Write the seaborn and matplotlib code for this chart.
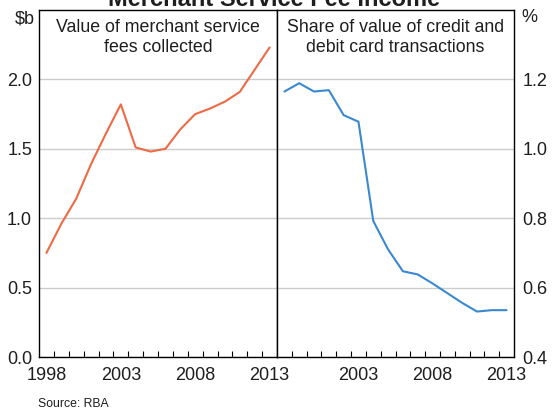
import matplotlib
matplotlib.use("Agg")
import matplotlib.pyplot as plt
import seaborn as sns
import pandas as pd

# ---- data ----
years = list(range(1998, 2014))
fees_bn = [0.75, 0.96, 1.14, 1.39, 1.61, 1.82, 1.51, 1.48, 1.50, 1.64,
           1.75, 1.79, 1.84, 1.91, 2.07, 2.23]
share_pct = [1.165, 1.189, 1.165, 1.169, 1.097, 1.078, 0.792, 0.710, 0.647,
             0.638, 0.612, 0.584, 0.556, 0.531, 0.535, 0.535]
left_year_labels = [1998, 2003, 2008, 2013]
right_year_labels = [2003, 2008, 2013]
left_yticks = [0.0, 0.5, 1.0, 1.5, 2.0]
right_yticks = [0.4, 0.6, 0.8, 1.0, 1.2]

title = "Merchant Service Fee Income"
left_title = "Value of merchant service\nfees collected"
right_title = "Share of value of credit and\ndebit card transactions"
source = "Source: RBA"

sns.set_theme(style="white")
plt.rcParams["font.family"] = ["Liberation Sans", "DejaVu Sans"]
TXT = "#1e1e1e"
ORANGE = "#EE6A45"
BLUE = "#3A88D0"
GRID = "#cccccc"
FS = 13

W, H = 556, 409
fig = plt.figure(figsize=(W / 100, H / 100), dpi=100)

def px_axes(x0, x1, ytop, ybot):
    return fig.add_axes([x0 / W, (H - ybot) / H, (x1 - x0) / W, (ybot - ytop) / H])

axL = px_axes(39, 277, 10, 357)
axR = px_axes(277, 514, 10, 357)

dfL = pd.DataFrame({"x": [y + 0.5 for y in years], "v": fees_bn})
dfR = pd.DataFrame({"x": [y + 0.5 for y in years], "v": share_pct})
sns.lineplot(data=dfL, x="x", y="v", ax=axL, color=ORANGE, lw=1.5)
sns.lineplot(data=dfR, x="x", y="v", ax=axR, color=BLUE, lw=1.5)

for ax in (axL, axR):
    ax.set_xlim(1998, 2014)
    ax.set_xlabel("")
    ax.set_ylabel("")
    for s in ax.spines.values():
        s.set_visible(True)
        s.set_color("black")
        s.set_linewidth(1.0)
    ax.set_xticks(list(range(1999, 2014)))
    ax.tick_params(axis="x", which="major", direction="in", length=4,
                   width=0.8, color="black", labelbottom=False, bottom=True)
    ax.grid(axis="y", color=GRID, lw=1.0)
    ax.grid(axis="x", visible=False)
    ax.set_axisbelow(True)

axL.set_ylim(0, 2.5)
axL.set_yticks(left_yticks)
axL.set_yticklabels([f"{v:.1f}" for v in left_yticks])
axL.tick_params(axis="y", length=0, pad=5, labelsize=FS, labelcolor=TXT)
axL.set_xticks([y + 0.5 for y in left_year_labels], minor=True)
axL.set_xticklabels([str(y) for y in left_year_labels], minor=True)

axR.set_ylim(0.4, 1.4)
axR.set_yticks(right_yticks)
axR.set_yticklabels([f"{v:.1f}" for v in right_yticks])
axR.yaxis.tick_right()
axR.tick_params(axis="y", length=0, pad=6, labelsize=FS, labelcolor=TXT,
                left=False, right=True, labelleft=False, labelright=True)
axR.set_xticks([y + 0.5 for y in right_year_labels], minor=True)
axR.set_xticklabels([str(y) for y in right_year_labels], minor=True)

for ax in (axL, axR):
    ax.tick_params(axis="x", which="minor", length=0, pad=7.5,
                   labelsize=FS, labelcolor=TXT)

TFS = 12.8
axL.text(0.5, 1 - 9 / 347, left_title, transform=axL.transAxes, ha="center",
         va="top", fontsize=TFS, color=TXT, linespacing=1.2)
axR.text(0.5, 1 - 9 / 347, right_title, transform=axR.transAxes, ha="center",
         va="top", fontsize=TFS, color=TXT, linespacing=1.2)

fig.text(35 / W, 1 - 19 / H, "\\$b", ha="right", va="center", fontsize=FS, color=TXT)
fig.text(521 / W, 1 - 17 / H, "%", ha="left", va="center", fontsize=FS, color=TXT)
fig.text(274 / W, 1 - 6 / H, title, ha="center", va="baseline",
         fontsize=17, fontweight="bold", color=TXT)
fig.text(38 / W, 1 - 407 / H, source, ha="left", va="baseline", fontsize=8.8, color=TXT)

fig.savefig("out.png", dpi=100)
